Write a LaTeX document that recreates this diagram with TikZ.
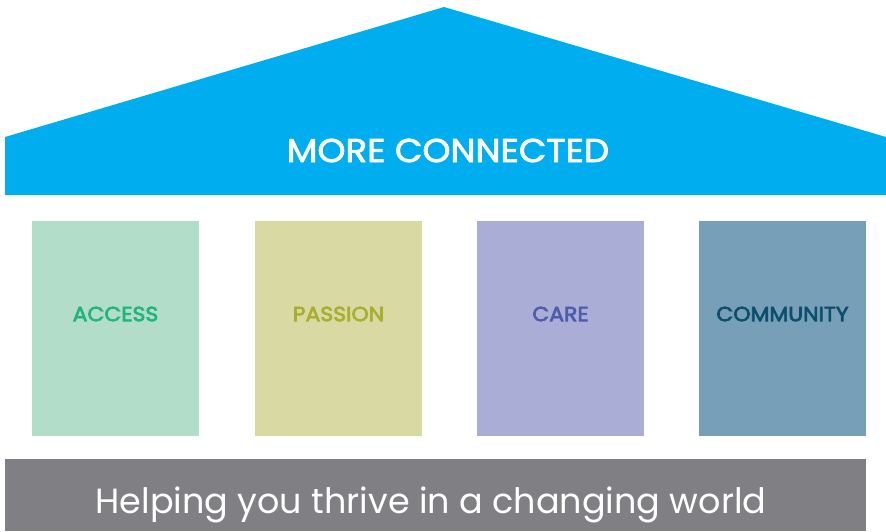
\documentclass[tikz,border=0pt]{standalone}
\usepackage{fontspec}
\setmainfont{Poppins}
\newfontfamily\medfont{Poppins}[FakeBold=2.2,FakeStretch=1.08]
\newfontfamily\semifont{Poppins}[FakeBold=3.2,FakeStretch=1.07]
\definecolor{roofblue}{HTML}{00AEEF}
\definecolor{accfill}{HTML}{B2DDC8}
\definecolor{acctext}{HTML}{22B47E}
\definecolor{pasfill}{HTML}{D9D9A3}
\definecolor{pastext}{HTML}{A9AE2F}
\definecolor{carfill}{HTML}{AAADD5}
\definecolor{cartext}{HTML}{4D5DA9}
\definecolor{comfill}{HTML}{789FB8}
\definecolor{comtext}{HTML}{0C4E6C}
\definecolor{basegray}{HTML}{808084}
\begin{document}
\begin{tikzpicture}[x=1pt,y=-1pt,
  pillar/.style={rectangle,inner sep=0pt,minimum width=167pt,minimum height=215pt},
  plabel/.style={font=\semifont\fontsize{20.5}{24}\selectfont,inner sep=0pt}]
\useasboundingbox (0,0) rectangle (886,531);
\fill[roofblue] (5,195) -- (5,137) -- (444,7) -- (886,137) -- (886,195) -- cycle;
\node[text=white,font=\medfont\fontsize{33}{38}\selectfont,inner sep=0pt] (roof) at (448,150.5) {MORE CONNECTED};
\node[pillar,fill=accfill] (p1) at (115.5,328.5) {};
\node[pillar,fill=pasfill] (p2) at (338.5,328.5) {};
\node[pillar,fill=carfill] (p3) at (560.5,328.5) {};
\node[pillar,fill=comfill] (p4) at (782.5,328.5) {};
\node[plabel,text=acctext] (l1) at ([yshift=14.5pt]p1.center) {ACCESS};
\node[plabel,text=pastext] (l2) at ([yshift=14.5pt]p2.center) {PASSION};
\node[plabel,text=cartext] (l3) at ([yshift=14.5pt]p3.center) {CARE};
\node[plabel,text=comtext] (l4) at ([yshift=14.5pt]p4.center) {COMMUNITY};
\node[rectangle,fill=basegray,inner sep=0pt,minimum width=861pt,minimum height=72pt] (base) at (435.5,495) {};
\node[text=white,font=\fontsize{35}{42}\selectfont,inner sep=0pt] (motto) at (431,505) {Helping you thrive in a changing world};
\end{tikzpicture}
\end{document}
